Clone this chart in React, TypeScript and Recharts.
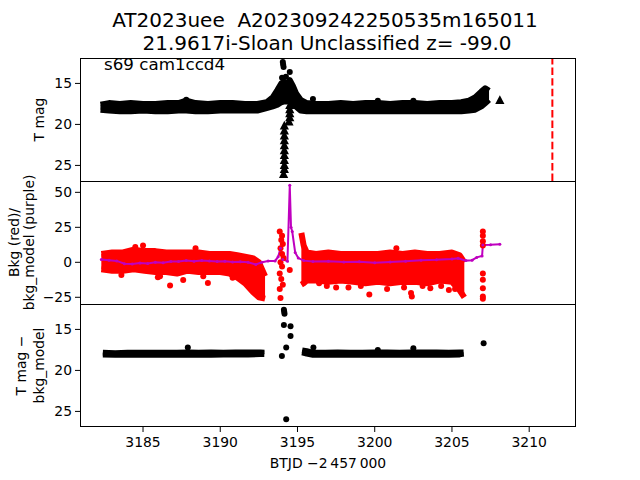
import React from 'react';
import {
  ComposedChart,
  Area,
  Line,
  Scatter,
  XAxis,
  YAxis,
  ReferenceLine
} from 'recharts';

// time axis (BTJD - 2457000)
const xDomain = [3180.92, 3213.03];
const xTicks = [3185, 3190, 3195, 3200, 3205, 3210];
const magTicks = [15, 20, 25];
const bkgTicks = [-25, 0, 25, 50];
const discoveryT = 3211.5;

// panel 1: T mag band (bright edge / faint edge)
const p1BandT = [3182.25, 3182.8, 3183.5, 3184.2, 3185.0, 3185.8, 3186.6, 3187.3, 3187.8, 3188.4, 3189.2, 3190.0, 3190.8, 3191.6, 3192.4, 3193.0, 3193.4, 3193.7, 3193.95, 3194.15, 3194.3, 3194.5, 3194.7, 3194.9, 3195.2, 3195.6, 3196.2, 3197.0, 3197.8, 3198.6, 3199.4, 3200.2, 3201.0, 3201.8, 3202.6, 3203.4, 3204.2, 3205.0, 3205.6, 3206.1, 3206.5, 3206.9, 3207.15, 3207.4];
const p1BandHi = [17.6, 17.4, 17.5, 17.4, 17.5, 17.5, 17.4, 17.4, 17.1, 17.4, 17.5, 17.4, 17.4, 17.5, 17.5, 17.3, 16.7, 15.8, 15.0, 14.8, 15.3, 14.6, 15.3, 16.2, 17.0, 17.4, 17.5, 17.5, 17.4, 17.5, 17.4, 17.4, 17.5, 17.4, 17.4, 17.5, 17.4, 17.4, 17.3, 17.1, 16.7, 16.0, 15.6, 15.9];
const p1BandLo = [18.2, 18.3, 18.4, 18.4, 18.3, 18.4, 18.4, 18.3, 18.3, 18.4, 18.4, 18.3, 18.3, 18.3, 18.3, 18.0, 17.8, 17.6, 17.3, 17.2, 17.2, 17.2, 17.4, 17.8, 18.3, 18.4, 18.4, 18.4, 18.4, 18.4, 18.4, 18.4, 18.4, 18.4, 18.4, 18.4, 18.4, 18.4, 18.4, 18.3, 18.2, 17.8, 17.4, 17.0];
const p1DotT = [3194.05, 3194.07, 3194.1, 3194.5, 3194.0, 3194.25, 3196.0, 3200.2, 3202.5, 3187.8];
const p1DotM = [12.4, 12.7, 13.0, 13.6, 14.3, 14.2, 16.9, 17.1, 17.1, 17.0];
// upper limits
const p1LimT = [3194.5, 3194.5, 3194.5, 3194.5, 3194.45, 3194.15, 3194.15, 3194.15, 3194.15, 3194.15, 3194.15, 3194.15, 3194.15, 3194.15, 3194.15, 3194.1, 3208.1];
const p1LimM = [17.6, 18.1, 18.6, 19.1, 19.6, 20.1, 20.7, 21.3, 21.9, 22.5, 23.1, 23.7, 24.3, 24.9, 25.4, 26.0, 17.0];

// panel 2: background (red) and bkg_model (purple)
const p2LeftT = [3182.3, 3183.0, 3183.7, 3184.4, 3185.1, 3185.8, 3186.5, 3187.2, 3187.9, 3188.6, 3189.3, 3190.0, 3190.6, 3191.1, 3191.6, 3192.1, 3192.5, 3192.9];
const p2LeftHi = [6, 7, 7, 9, 8, 8, 7, 7, 7, 7, 6, 6, 6, 5, 4, 3, 0, -10];
const p2LeftLo = [-5, -6, -6, -5, -6, -7, -7, -8, -6, -7, -7, -7, -8, -11, -15, -21, -25, -26];
const p2RightT = [3195.25, 3195.4, 3195.6, 3196.2, 3197.0, 3197.8, 3198.6, 3199.4, 3200.2, 3201.0, 3201.8, 3202.6, 3203.4, 3204.2, 3205.0, 3205.5, 3205.8];
const p2RightHi = [21, 12, 7, 6, 7, 6, 6, 6, 6, 7, 6, 7, 6, 6, 7, 5, 0];
const p2RightLo = [-16, -15, -13, -13, -14, -13, -14, -15, -14, -15, -14, -14, -15, -13, -14, -20, -25];
const p2DotT = [3193.85, 3194.0, 3193.95, 3194.05, 3193.9, 3194.0, 3194.1, 3193.9, 3194.0, 3193.85, 3193.95, 3194.05, 3193.85, 3193.9, 3194.5,
  3185.0, 3184.5, 3188.4, 3185.96, 3186.75, 3187.6, 3189.2, 3190.8, 3183.6, 3186.1, 3188.9,
  3196.4, 3199.65, 3201.4, 3202.4, 3202.35, 3204.8, 3197.5, 3200.8, 3203.6, 3196.9, 3198.3, 3199.1, 3201.9, 3203.1, 3204.3, 3205.2,
  3207.0, 3207.0, 3207.0, 3207.0, 3207.0, 3207.0, 3207.0, 3207.0, 3207.0];
const p2DotV = [22, 19, 16, 13, 10, 6, 3, 0, -3, -8, -12, -16, -19, -25.5, -5.5,
  12, 11, 10, -10.7, -16.5, -12.6, -14.8, -11, -9, -10, -10,
  -15, -23, 10, -24.5, -22, -19.8, -18, -19, -18.5, -17, -18, -17, -18, -17, -17, -19,
  22, 19, 15, 12, -8, -12.5, -18.5, -24.5, -26];
const p2ModelT = [3182.3, 3182.8, 3183.3, 3183.8, 3184.3, 3184.8, 3185.3, 3185.8, 3186.3, 3186.8, 3187.3, 3187.8, 3188.3, 3188.8, 3189.3, 3189.8, 3190.3, 3190.8, 3191.3, 3191.8, 3192.3, 3192.7, 3193.1, 3193.55, 3193.75, 3193.9, 3194.05, 3194.35, 3194.5, 3194.58, 3194.66, 3194.85, 3195.05, 3195.4, 3196.0, 3197.0, 3198.0, 3199.0, 3200.0, 3201.0, 3202.0, 3203.0, 3204.0, 3205.0, 3205.4, 3205.9, 3206.3, 3206.6, 3206.95, 3207.0, 3207.5, 3208.1];
const p2ModelV = [2.0, 1.5, 1.0, -1.0, -1.2, -0.5, -0.8, 0.0, -0.3, 0.5, 0.6, 1.2, 0.8, 1.2, 1.0, 0.6, 0.8, 0.2, 0.4, 0.0, -1.5, 0.0, 1.0, 1.0, 4.0, 10.0, 2.0, 0.8, 55.0, 25.0, 22.0, 7.0, 3.0, 1.2, 0.6, 0.8, 0.2, 0.4, -0.3, 0.2, 0.8, 1.5, 1.8, 2.4, 2.9, 1.2, 1.5, 3.5, 4.5, 12.4, 12.5, 12.9];

// panel 3: T mag - bkg_model
const p3LeftT = [3182.4, 3183.2, 3184.0, 3184.8, 3185.6, 3186.4, 3187.2, 3187.9, 3188.6, 3189.4, 3190.2, 3191.0, 3191.8, 3192.6, 3192.85];
const p3LeftHi = [17.85, 17.9, 17.85, 17.85, 17.85, 17.85, 17.85, 17.8, 17.85, 17.8, 17.85, 17.8, 17.8, 17.8, 17.85];
const p3LeftLo = [18.05, 18.1, 18.1, 18.05, 18.1, 18.1, 18.05, 18.1, 18.1, 18.1, 18.05, 18.05, 18.05, 18.0, 18.0];
const p3RightT = [3195.3, 3195.6, 3196.0, 3196.8, 3197.6, 3198.4, 3199.2, 3200.0, 3200.8, 3201.6, 3202.4, 3203.2, 3204.0, 3204.8, 3205.5, 3205.75];
const p3RightHi = [17.55, 17.65, 17.85, 17.85, 17.8, 17.85, 17.85, 17.8, 17.8, 17.85, 17.8, 17.8, 17.8, 17.85, 17.8, 17.8];
const p3RightLo = [17.8, 17.95, 18.1, 18.1, 18.1, 18.1, 18.05, 18.1, 18.1, 18.1, 18.05, 18.1, 18.1, 18.1, 18.05, 17.95];
const p3DotT = [3194.12, 3194.14, 3194.16, 3194.12, 3194.55, 3194.55, 3194.27, 3193.99, 3194.27, 3187.9, 3196.03, 3202.5, 3200.2, 3207.05];
const p3DotM = [12.6, 12.85, 13.1, 14.45, 14.6, 15.8, 17.2, 18.25, 25.95, 17.2, 17.2, 17.3, 17.5, 16.7];

const band = (ts: number[], hi: number[], lo: number[]) => ts.map((t, i) => ({ t, r: [lo[i], hi[i]] }));
const pts = (ts: number[], ys: number[], key: string) => ts.map((t, i) => ({ t, [key]: ys[i] }));

const RED = '#ff0000';
const PURPLE = '#bf00bf';
const FONT = 'DejaVu Sans, sans-serif';

const dot = (color: string) => (p: any) => <circle cx={p.cx} cy={p.cy} r={3} fill={color} />;
const tri = (p: any) => (
  <polygon
    points={`${p.cx},${p.cy - 4.6} ${p.cx - 4.6},${p.cy + 4.3} ${p.cx + 4.6},${p.cy + 4.3}`}
    fill="#000"
  />
);

const minus = (v: number) => String(v).replace('-', '\u2212');
const tickStyle = { fill: '#000', fontSize: 13.9 };

function Panel({ top, bottom, yKey, domain, ticks, reversed, showX, children }: any) {
  return (
    <div style={{ position: 'absolute', left: 0, top: 0 }}>
      <ComposedChart
        width={640}
        height={480}
        margin={{ top, bottom: showX ? 480 - bottom - 30 : 480 - bottom, left: 40, right: 64 }}
      >
        <XAxis
          dataKey="t"
          type="number"
          domain={xDomain}
          ticks={xTicks}
          allowDataOverflow
          hide={!showX}
          height={30}
          axisLine={false}
          tickLine={{ stroke: '#000' }}
          tickSize={5}
          tickMargin={5}
          tick={tickStyle}
        />
        <YAxis
          dataKey={yKey}
          type="number"
          domain={domain}
          ticks={ticks}
          reversed={reversed}
          allowDataOverflow
          width={40}
          axisLine={false}
          tickLine={{ stroke: '#000' }}
          tickSize={5}
          tickMargin={3}
          tick={tickStyle}
          tickFormatter={minus}
        />
        {children}
      </ComposedChart>
    </div>
  );
}

export default function App() {
  return (
    <div style={{ position: 'absolute', left: 0, top: 0, width: 640, height: 480, background: '#fff', fontFamily: FONT }}>
      <Panel top={58} bottom={181} yKey="m" domain={[11.9, 26.9]} ticks={magTicks} reversed>
        <Area data={band(p1BandT, p1BandHi, p1BandLo)} dataKey="r" type="linear" fill="#000" fillOpacity={1} stroke="#000" strokeWidth={6} strokeLinejoin="round" isAnimationActive={false} />
        <Scatter data={pts(p1DotT, p1DotM, 'm')} shape={dot('#000')} isAnimationActive={false} />
        <Scatter data={pts(p1LimT, p1LimM, 'm')} shape={tri} isAnimationActive={false} />
        <ReferenceLine x={discoveryT} stroke={RED} strokeWidth={2} strokeDasharray="7.4 3.2" />
      </Panel>
      <Panel top={181} bottom={304} yKey="v" domain={[-29.8, 58.1]} ticks={bkgTicks}>
        <Area data={band(p2LeftT, p2LeftHi, p2LeftLo)} dataKey="r" type="linear" fill={RED} fillOpacity={1} stroke={RED} strokeWidth={6} strokeLinejoin="round" isAnimationActive={false} />
        <Area data={band(p2RightT, p2RightHi, p2RightLo)} dataKey="r" type="linear" fill={RED} fillOpacity={1} stroke={RED} strokeWidth={6} strokeLinejoin="round" isAnimationActive={false} />
        <Scatter data={pts(p2DotT, p2DotV, 'v')} shape={dot(RED)} isAnimationActive={false} />
        <Line data={pts(p2ModelT, p2ModelV, 'v')} dataKey="v" type="linear" stroke={PURPLE} strokeWidth={2} dot={{ r: 1.5, fill: PURPLE, stroke: 'none' }} isAnimationActive={false} />
      </Panel>
      <Panel top={304} bottom={427} yKey="m" domain={[11.9, 26.9]} ticks={magTicks} reversed showX>
        <Area data={band(p3LeftT, p3LeftHi, p3LeftLo)} dataKey="r" type="linear" fill="#000" fillOpacity={1} stroke="#000" strokeWidth={6} strokeLinejoin="round" isAnimationActive={false} />
        <Area data={band(p3RightT, p3RightHi, p3RightLo)} dataKey="r" type="linear" fill="#000" fillOpacity={1} stroke="#000" strokeWidth={6} strokeLinejoin="round" isAnimationActive={false} />
        <Scatter data={pts(p3DotT, p3DotM, 'm')} shape={dot('#000')} isAnimationActive={false} />
      </Panel>

      {/* axes frames */}
      <div style={{ position: 'absolute', left: 80, top: 58, width: 496, height: 369, border: '1px solid #000', boxSizing: 'border-box', pointerEvents: 'none' }} />
      <div style={{ position: 'absolute', left: 80, top: 181, width: 496, height: 1, background: '#000' }} />
      <div style={{ position: 'absolute', left: 80, top: 304, width: 496, height: 1, background: '#000' }} />

      <svg width={640} height={480} style={{ position: 'absolute', left: 0, top: 0, pointerEvents: 'none' }} fontFamily={FONT}>
        <text x={325} y={27} fontSize={20} textAnchor="middle" style={{ whiteSpace: 'pre' }}>
          AT2023uee  A202309242250535m165011
        </text>
        <text x={327} y={50} fontSize={20} textAnchor="middle">
          21.9617i-Sloan Unclassified z= -99.0
        </text>
        <text x={104} y={70} fontSize={16.7}>s69 cam1ccd4</text>
        <text transform="translate(39,119.5) rotate(-90)" fontSize={13.9} textAnchor="middle" dominantBaseline="central">T mag</text>
        <text transform="translate(14,242.5) rotate(-90)" fontSize={13.9} textAnchor="middle" dominantBaseline="central">Bkg (red)/</text>
        <text transform="translate(29,242.5) rotate(-90)" fontSize={13.9} textAnchor="middle" dominantBaseline="central">bkg_model (purple)</text>
        <text transform="translate(21,365.5) rotate(-90)" fontSize={13.9} textAnchor="middle" dominantBaseline="central">T mag −</text>
        <text transform="translate(39,365.5) rotate(-90)" fontSize={13.9} textAnchor="middle" dominantBaseline="central">bkg_model</text>
        <text x={328} y={468} fontSize={13.9} textAnchor="middle">BTJD −2{'\u2009'}457{'\u2009'}000</text>
      </svg>
    </div>
  );
}
